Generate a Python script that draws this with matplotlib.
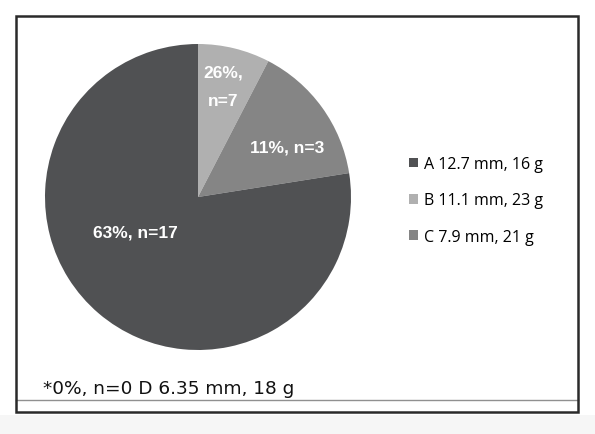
import matplotlib
matplotlib.use("Agg")
import matplotlib.pyplot as plt
from matplotlib.patches import Rectangle, Patch
from matplotlib.lines import Line2D

# wedge sizes as drawn (clockwise from 12 o'clock: B, C, A)
slice_names = ["B", "C", "A"]
slice_sizes = [7.6, 14.9, 77.5]
slice_colors = ["#b0b0b0", "#858585", "#505153"]
slice_labels = ["26%,\n\nn=7", "11%, n=3", "63%, n=17"]

legend_names = ["A 12.7 mm, 16 g", "B 11.1 mm, 23 g", "C 7.9 mm, 21 g"]
legend_colors = ["#505153", "#b0b0b0", "#858585"]
footnote = "*0%, n=0 D 6.35 mm, 18 g"

W, H = 595, 435
fig = plt.figure(figsize=(W / 100, H / 100), dpi=100)
fig.patch.set_facecolor("white")

# light gray strip under the frame
fig.add_artist(Rectangle((0, 0), 1, 19 / H, transform=fig.transFigure,
                         facecolor="#f6f6f6", edgecolor="none", zorder=0))

cx, cy, r = 198, 198, 153
ax = fig.add_axes([(cx - r) / W, 1 - (cy + r) / H, 2 * r / W, 2 * r / H])
wedges, _ = ax.pie(slice_sizes, colors=slice_colors, startangle=90,
                   counterclock=False, radius=1,
                   wedgeprops=dict(linewidth=0, antialiased=True))
ax.set_xlim(-1, 1)
ax.set_ylim(-1, 1)
ax.axis("off")

# labels inside wedges (pixel positions -> data coords)
def px(x, y):
    return (x - cx) / r, (cy - y) / r

lab_pos = [(223, 87), (287, 148), (135, 233)]
for txt, (x, y) in zip(slice_labels, lab_pos):
    dx, dy = px(x, y)
    ax.text(dx, dy, txt, color="white", fontsize=12.5, fontweight="bold",
            family="Liberation Sans", ha="center", va="center", linespacing=0.95)

handles = [Patch(facecolor=c, edgecolor="none") for c in legend_colors]
fig.legend(handles, legend_names, loc="upper left",
           bbox_to_anchor=(409 / W, 1 - 157 / H), frameon=False,
           prop=dict(family="Open Sans", size=11.5),
           handlelength=0.55, handleheight=0.55, handletextpad=0.4,
           labelspacing=1.28, borderpad=0, borderaxespad=0)

fig.text(43 / W, 1 - 394 / H, footnote, fontsize=13.3, family="DejaVu Sans",
         color="#111111", ha="left", va="baseline")

# frame and inner rule
fig.add_artist(Rectangle((16 / W, 1 - 413 / H), (578 - 16) / W, (413 - 17) / H,
                         transform=fig.transFigure, facecolor="none",
                         edgecolor="#2a2a2a", linewidth=1.8, zorder=5))
fig.add_artist(Line2D([16 / W, 578 / W], [1 - 400.5 / H, 1 - 400.5 / H],
                      transform=fig.transFigure, color="#909090", linewidth=1))

fig.savefig("out.png", dpi=100)
